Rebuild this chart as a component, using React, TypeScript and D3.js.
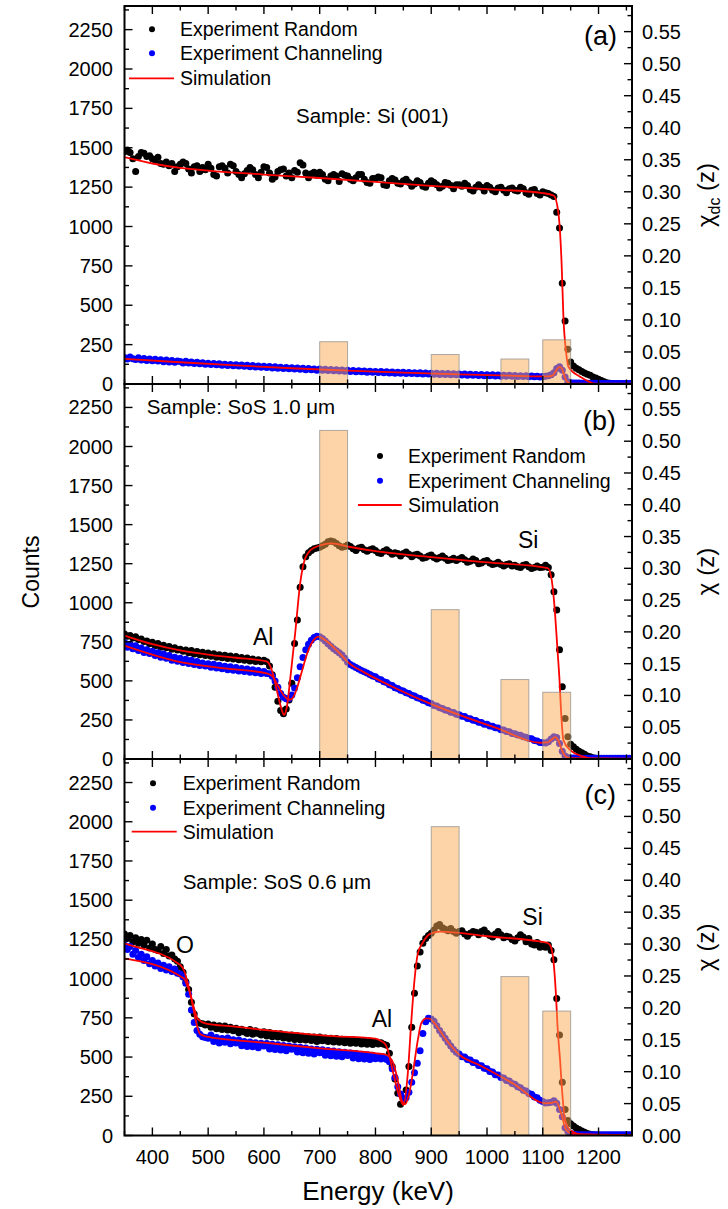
import React from 'react';
import * as d3 from 'd3';

// ---------- DATA ----------
const energy = d3.range(350, 1261, 5); // channel energies (keV)

const randomA = [
1475,1485,1470,1430,1350,1445,1470,1465,1445,1450,
1430,1420,1440,1400,1395,1410,1385,1400,1350,1380,
1395,1410,1400,1365,1340,1380,1385,1350,1375,1360,
1395,1370,1330,1320,1380,1385,1370,1340,1395,1385,
1350,1330,1310,1335,1355,1375,1360,1330,1310,1345,
1380,1375,1340,1300,1315,1350,1360,1365,1320,1340,
1310,1355,1345,1405,1390,1340,1310,1335,1345,1325,
1345,1330,1300,1290,1320,1330,1320,1285,1335,1325,
1320,1300,1290,1310,1330,1330,1300,1280,1275,1305,
1305,1315,1310,1265,1260,1290,1305,1295,1275,1270,
1290,1300,1280,1255,1270,1290,1280,1255,1250,1275,
1290,1280,1265,1245,1255,1280,1275,1260,1240,1265,
1265,1255,1275,1260,1235,1225,1250,1265,1250,1225,
1260,1250,1230,1220,1245,1250,1230,1215,1240,1245,
1230,1225,1250,1240,1215,1205,1230,1235,1210,1200,
1220,1215,1210,1200,1190,1090,990,640,400,220,
140,115,100,90,80,70,62,55,45,38,
30,22,15,8,5,3,2,2,1,1,
1,1,1];

const channelA = [
168,158,172,160,155,166,152,162,150,158,
148,157,146,154,142,152,140,149,138,146,
143,134,145,133,140,130,138,128,135,126,
132,124,130,122,128,119,126,117,124,116,
122,114,120,112,119,110,117,108,115,106,
113,105,111,102,109,100,107,99,105,97,
103,95,101,93,100,91,98,90,96,88,
95,87,93,85,92,84,90,82,89,81,
87,80,86,78,84,77,83,75,81,74,
80,73,79,71,77,70,76,69,75,68,
74,67,73,66,72,65,71,64,70,63,
69,62,68,61,67,60,66,59,65,58,
64,57,63,56,62,55,61,54,60,53,
59,52,58,51,57,50,56,50,55,49,
54,48,53,47,52,46,51,46,50,45,
48,50,52,58,72,98,110,88,45,15,
8,7,6,6,5,5,5,4,4,4,
4,3,3,3,3,3,3,3,3,3,
3,3,3];

const randomB = [
800,785,790,775,782,765,768,752,755,738,
748,725,740,716,728,712,720,702,712,698,
702,690,698,680,695,672,688,668,684,662,
678,658,674,652,668,648,664,644,660,640,
656,635,650,632,646,628,640,624,636,622,
632,622,595,540,460,370,310,290,320,378,
485,740,890,1100,1230,1295,1320,1335,1345,1350,
1355,1365,1375,1390,1395,1390,1380,1365,1355,1360,
1370,1360,1345,1335,1350,1355,1340,1330,1340,1345,
1335,1320,1315,1330,1340,1325,1310,1320,1315,1300,
1315,1325,1310,1295,1305,1310,1300,1285,1290,1300,
1305,1290,1280,1290,1300,1285,1270,1275,1285,1270,
1280,1290,1275,1260,1265,1280,1270,1250,1255,1265,
1270,1255,1245,1250,1260,1245,1235,1245,1250,1235,
1240,1230,1225,1240,1245,1230,1220,1225,1235,1225,
1228,1240,1225,1180,1070,954,700,463,260,143,
95,78,62,50,40,30,20,14,8,5,
3,3,2,2,2,2,2,2,2,2,
2,2,2];

const channelB = [
745,715,735,705,725,695,710,682,700,675,
690,662,680,652,672,645,662,632,652,625,
645,618,638,612,632,605,624,598,615,595,
610,588,606,582,600,578,594,572,590,568,
585,563,580,560,576,556,572,552,566,548,
560,548,545,530,500,460,420,395,385,388,
410,455,520,590,650,700,735,760,778,785,
782,772,755,738,722,706,693,680,665,645,
620,605,595,585,576,567,558,550,541,532,
526,512,508,494,490,476,470,456,452,440,
436,424,420,408,404,392,388,376,372,360,
356,343,339,328,324,314,310,300,297,286,
284,273,272,260,258,248,246,236,234,223,
222,212,210,200,198,188,186,176,174,164,
162,153,152,142,140,131,129,118,115,106,
104,102,110,128,142,138,100,50,20,10,
6,6,6,5,5,5,5,5,5,5,
5,5,5,5,5,5,5,5,5,5,
5,5,5];

const randomC = [
1285,1255,1275,1235,1260,1225,1250,1215,1245,1195,
1220,1185,1180,1205,1160,1185,1145,1150,1125,1110,
1075,1040,980,930,850,775,730,715,712,705,
710,690,705,680,700,675,698,672,690,668,
684,655,678,660,650,675,645,668,650,640,
662,635,656,630,650,628,648,622,640,618,
640,612,636,610,632,608,630,605,628,600,
628,604,622,600,620,596,618,594,614,592,
612,588,610,588,606,584,604,582,602,580,
596,584,592,582,575,524,440,360,270,200,
220,290,440,690,906,1080,1170,1225,1255,1275,
1290,1310,1335,1345,1325,1315,1305,1320,1300,1290,
1300,1305,1285,1270,1290,1300,1295,1280,1300,1310,
1290,1275,1265,1285,1300,1280,1260,1270,1265,1250,
1240,1260,1280,1265,1235,1255,1220,1215,1230,1200,
1210,1200,1215,1180,1120,874,640,340,165,95,
75,60,48,38,28,20,12,8,5,3,
2,2,2,2,2,2,2,2,2,2,
2,2,2];

const channelC = [
1215,1185,1205,1155,1180,1135,1155,1115,1140,1095,
1115,1080,1100,1065,1085,1055,1075,1045,1062,1035,
1030,1010,970,900,800,720,670,645,630,625,
620,640,600,625,590,618,595,622,585,610,
590,608,572,600,568,596,565,592,560,588,
570,586,552,582,548,578,545,574,540,570,
550,566,532,562,528,558,524,552,520,550,
528,546,512,542,508,538,505,534,502,530,
510,526,494,522,490,518,488,515,485,512,
490,505,488,500,485,470,425,370,310,265,
235,240,275,340,400,460,540,650,725,748,
742,728,700,670,645,620,595,570,548,530,
520,502,500,485,482,465,463,447,444,428,
425,408,405,388,386,370,367,350,348,332,
327,310,305,289,284,267,263,246,241,225,
217,207,208,212,222,205,165,120,50,25,
12,8,6,5,5,5,5,5,5,5,
5,5,5,5,5,5,5,5,5,5,
5,5,5];

// simulations: [energy keV, counts]
const simRandomA: [number, number][] = [
[350,1440],[400,1400],[450,1372],[500,1355],[600,1330],[700,1308],[800,1283],[900,1258],
[1000,1237],[1100,1212],[1120,1195],[1128,1086],[1134,745],[1137,427],[1142,197],[1146,110],
[1167,46],[1185,12],[1195,0],[1260,0]];
const simChannelA: [number, number][] = [
[350,160],[450,138],[550,118],[650,100],[750,85],[850,72],[950,61],[1050,52],[1110,48],
[1118,55],[1124,85],[1130,108],[1134,100],[1139,50],[1144,12],[1152,3],[1260,2]];
const simRandomB: [number, number][] = [
[350,790],[400,735],[450,695],[500,668],[550,648],[605,625],[614,570],[623,442],[632,314],
[636,282],[641,330],[647,506],[656,804],[665,1124],[674,1284],[689,1350],[722,1380],[750,1360],
[800,1330],[900,1292],[1000,1258],[1109,1222],[1116,1146],[1122,932],[1126,719],[1130,506],
[1133,292],[1137,121],[1149,58],[1173,15],[1190,0],[1260,0]];
const simChannelB: [number, number][] = [
[350,725],[440,628],[530,580],[605,548],[615,530],[625,470],[635,410],[645,380],[650,385],
[658,440],[668,560],[678,680],[688,755],[698,783],[705,772],[737,672],[752,615],[779,556],
[838,450],[898,354],[1020,194],[1095,104],[1108,106],[1116,125],[1122,140],[1128,118],
[1134,60],[1140,20],[1148,5],[1260,3]];
const simRandomC: [number, number][] = [
[350,1225],[360,1214],[450,1087],[457,1050],[465,948],[474,821],[482,740],[495,715],[544,695],
[724,634],[800,618],[810,603],[818,580],[823,534],[832,396],[841,269],[850,194],[858,396],
[864,715],[870,991],[876,1161],[885,1230],[898,1285],[916,1300],[1000,1270],[1107,1229],
[1113,1214],[1119,1118],[1123.5,906],[1126.5,693],[1131,481],[1135,269],[1140,99],[1149,35],
[1173,3],[1260,0]];
const simChannelC: [number, number][] = [
[350,1129],[456,1002],[462,960],[468,900],[474,800],[480,700],[486,645],[500,628],[600,592],
[700,556],[802,524],[820,513],[832,460],[841,333],[847,226],[853,200],[860,260],[867,396],
[876,609],[882,715],[891,747],[897,745],[905,720],[927,609],[951,513],[986,449],[1046,333],
[1106,205],[1116,208],[1124,216],[1133,141],[1142,35],[1154,10],[1260,3]];

// chi(z) bars: [from keV, to keV, chi]
const chiBarsA: [number, number, number][] = [[700,750,0.066],[900,950,0.046],[1025,1075,0.039],[1100,1150,0.069]];
const chiBarsB: [number, number, number][] = [[700,750,0.517],[900,950,0.235],[1025,1075,0.125],[1100,1150,0.105]];
const chiBarsC: [number, number, number][] = [[900,950,0.484],[1025,1075,0.249],[1100,1150,0.195]];

const countTicks = [0,250,500,750,1000,1250,1500,1750,2000,2250];
const countMinor = [125,375,625,875,1125,1375,1625,1875,2125,2375];
const chiTicks = ['0.00','0.05','0.10','0.15','0.20','0.25','0.30','0.35','0.40','0.45','0.50','0.55'];
const energyTicks = [400,500,600,700,800,900,1000,1100,1200];
const energyMinor = [350,450,550,650,750,850,950,1050,1150,1250];

const legendLabels = ['Experiment Random', 'Experiment Channeling', 'Simulation'];

// ---------- LAYOUT ----------
const W = 728, H = 1209;
const X0 = 124.5, X1 = 632;
const FONT = '"Liberation Sans", Arial, Helvetica, sans-serif';
const x = d3.scaleLinear().domain([350, 1260]).range([X0, X1]);

type Label = { text: string; x: number; y: number; size: number; anchor?: string };
type PanelProps = {
  id: string; top: number; bottom: number;
  random: number[]; channel: number[];
  simR: [number, number][]; simC: [number, number][];
  bars: [number, number, number][];
  legend: { dx: number; lx0: number; lx1: number; tx: number; ys: number[] };
  labels: Label[];
  rightTitleSub: boolean;
};

function Panel(p: PanelProps) {
  const yL = d3.scaleLinear().domain([0, 2400]).range([p.bottom, p.top]);
  const yR = d3.scaleLinear().domain([0, 0.59]).range([p.bottom, p.top]);
  const line = d3.line<[number, number]>().x(d => x(d[0])).y(d => yL(d[1])).curve(d3.curveMonotoneX);
  const clipId = 'clip-' + p.id;
  const ptsR = energy.map((e, i) => [e, p.random[i]] as [number, number]).filter(d => d[1] !== undefined);
  const ptsC = energy.map((e, i) => [e, p.channel[i]] as [number, number]).filter(d => d[1] !== undefined);
  const mid = (p.top + p.bottom) / 2;
  const tk = 1.4;
  return (
    <g>
      <defs>
        <clipPath id={clipId}>
          <rect x={X0} y={p.top} width={X1 - X0} height={p.bottom - p.top} />
        </clipPath>
      </defs>
      <g clipPath={`url(#${clipId})`}>
        {ptsR.map((d, i) => <circle key={'r' + i} cx={x(d[0])} cy={yL(d[1])} r={3.5} fill="#000" />)}
        {ptsC.map((d, i) => <circle key={'c' + i} cx={x(d[0])} cy={yL(d[1])} r={3.5} fill="#0000ff" />)}
        <path d={line(p.simR) || ''} fill="none" stroke="#ff0000" strokeWidth={1.8} />
        <path d={line(p.simC) || ''} fill="none" stroke="#ff0000" strokeWidth={1.8} />
        {p.bars.map((b, i) => (
          <rect key={'b' + i} x={x(b[0])} y={yR(b[2])} width={x(b[1]) - x(b[0])} height={p.bottom - yR(b[2])}
            fill="#fba94f" fillOpacity={0.5} stroke="#8a8a8a" strokeOpacity={0.7} strokeWidth={1} />
        ))}
      </g>
      <rect x={X0} y={p.top} width={X1 - X0} height={p.bottom - p.top} fill="none" stroke="#000" strokeWidth={2} />
      {countTicks.map(v => (
        <g key={'lt' + v}>
          <line x1={X0} x2={X0 + 8} y1={yL(v)} y2={yL(v)} stroke="#000" strokeWidth={tk} />
          <text x={113} y={yL(v)} dy="0.35em" textAnchor="end" fontSize={20} fontFamily={FONT}>{v}</text>
        </g>
      ))}
      {countMinor.map(v => <line key={'lm' + v} x1={X0} x2={X0 + 4.5} y1={yL(v)} y2={yL(v)} stroke="#000" strokeWidth={tk} />)}
      {chiTicks.map(s => {
        const v = +s;
        return (
          <g key={'rt' + s}>
            <line x1={X1} x2={X1 - 8} y1={yR(v)} y2={yR(v)} stroke="#000" strokeWidth={tk} />
            <text x={642} y={yR(v)} dy="0.35em" textAnchor="start" fontSize={20} fontFamily={FONT}>{s}</text>
          </g>
        );
      })}
      {chiTicks.map(s => +s + 0.025).filter(v => v < 0.59).map(v => (
        <line key={'rm' + v} x1={X1} x2={X1 - 4.5} y1={yR(v)} y2={yR(v)} stroke="#000" strokeWidth={tk} />
      ))}
      {energyTicks.map(e => (
        <g key={'xt' + e}>
          <line x1={x(e)} x2={x(e)} y1={p.bottom} y2={p.bottom - 8} stroke="#000" strokeWidth={tk} />
          <line x1={x(e)} x2={x(e)} y1={p.top} y2={p.top + 8} stroke="#000" strokeWidth={tk} />
        </g>
      ))}
      {energyMinor.map(e => (
        <g key={'xm' + e}>
          <line x1={x(e)} x2={x(e)} y1={p.bottom} y2={p.bottom - 4.5} stroke="#000" strokeWidth={tk} />
          <line x1={x(e)} x2={x(e)} y1={p.top} y2={p.top + 4.5} stroke="#000" strokeWidth={tk} />
        </g>
      ))}
      <circle cx={p.legend.dx} cy={p.legend.ys[0]} r={3} fill="#000" />
      <circle cx={p.legend.dx} cy={p.legend.ys[1]} r={3} fill="#0000ff" />
      <line x1={p.legend.lx0} x2={p.legend.lx1} y1={p.legend.ys[2]} y2={p.legend.ys[2]} stroke="#ff0000" strokeWidth={1.8} />
      {legendLabels.map((t, i) => (
        <text key={'lg' + i} x={p.legend.tx} y={p.legend.ys[i]} dy="0.35em" fontSize={19.5} fontFamily={FONT}>{t}</text>
      ))}
      {p.labels.map((l, i) => (
        <text key={'lb' + i} x={l.x} y={l.y} fontSize={l.size} textAnchor={l.anchor || 'start'} fontFamily={FONT}>{l.text}</text>
      ))}
      <text transform={`translate(714,${mid}) rotate(-90)`} textAnchor="middle" fontSize={24} fontFamily={FONT}>
        χ{p.rightTitleSub ? <tspan fontSize={16} dy={6}>dc</tspan> : null}
        {p.rightTitleSub ? <tspan dy={-6}> (z)</tspan> : <tspan> (z)</tspan>}
      </text>
    </g>
  );
}

export default function App() {
  const panels: PanelProps[] = [
    {
      id: 'a', top: 6, bottom: 384, random: randomA, channel: channelA, simR: simRandomA, simC: simChannelA,
      bars: chiBarsA, rightTitleSub: true,
      legend: { dx: 152, lx0: 129, lx1: 174, tx: 180, ys: [29.3, 53.3, 78.3] },
      labels: [
        { text: 'Sample: Si (001)', x: 296, y: 123, size: 20.5 },
        { text: '(a)', x: 617, y: 44.5, size: 27, anchor: 'end' },
      ],
    },
    {
      id: 'b', top: 384, bottom: 759, random: randomB, channel: channelB, simR: simRandomB, simC: simChannelB,
      bars: chiBarsB, rightTitleSub: false,
      legend: { dx: 380, lx0: 358, lx1: 401.7, tx: 408, ys: [456, 480.7, 505] },
      labels: [
        { text: 'Sample: SoS 1.0 μm', x: 146.7, y: 414, size: 20.5 },
        { text: '(b)', x: 616, y: 429.7, size: 27, anchor: 'end' },
        { text: 'Si', x: 518, y: 547.7, size: 23 },
        { text: 'Al', x: 253, y: 645, size: 23 },
      ],
    },
    {
      id: 'c', top: 759, bottom: 1135.5, random: randomC, channel: channelC, simR: simRandomC, simC: simChannelC,
      bars: chiBarsC, rightTitleSub: false,
      legend: { dx: 153, lx0: 131.7, lx1: 176.7, tx: 182.7, ys: [783.3, 807.7, 831.7] },
      labels: [
        { text: 'Sample: SoS 0.6 μm', x: 182.7, y: 889.3, size: 20.5 },
        { text: '(c)', x: 616, y: 803.7, size: 27, anchor: 'end' },
        { text: 'O', x: 176, y: 953.3, size: 23 },
        { text: 'Al', x: 371.7, y: 1026.7, size: 23 },
        { text: 'Si', x: 522.3, y: 925, size: 23 },
      ],
    },
  ];
  return (
    <svg width={W} height={H} viewBox={`0 0 ${W} ${H}`}
      style={{ position: 'absolute', left: 0, top: 0, background: '#fff' }}>
      <rect x={0} y={0} width={W} height={H} fill="#fff" />
      {panels.map(p => <Panel key={p.id} {...p} />)}
      {energyTicks.map(e => (
        <text key={'xl' + e} x={x(e)} y={1163.5} textAnchor="middle" fontSize={20} fontFamily={FONT}>{e}</text>
      ))}
      <text x={378} y={1200} textAnchor="middle" fontSize={26} fontFamily={FONT}>Energy (keV)</text>
      <text transform="translate(39,572) rotate(-90)" textAnchor="middle" fontSize={23} fontFamily={FONT}>Counts</text>
    </svg>
  );
}
